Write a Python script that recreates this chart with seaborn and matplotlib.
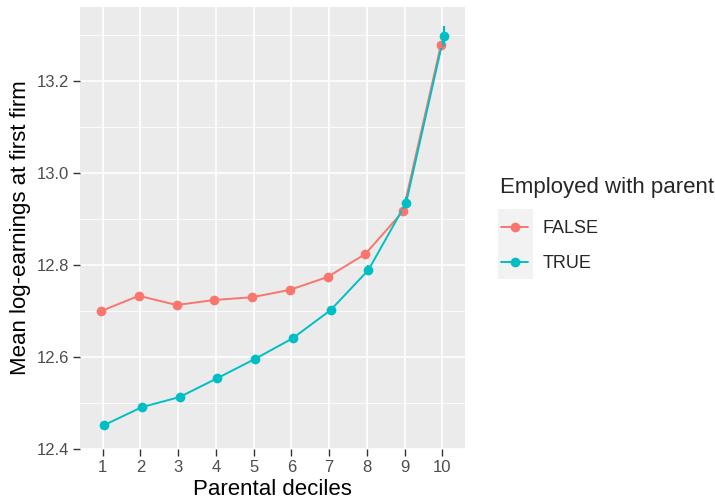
import numpy as np
import pandas as pd
import matplotlib
matplotlib.use("Agg")
import matplotlib.pyplot as plt
import seaborn as sns
from matplotlib.patches import Rectangle

# Datos
deciles = [1, 2, 3, 4, 5, 6, 7, 8, 9, 10]
no_empleado = [12.700, 12.733, 12.713, 12.724, 12.730, 12.746, 12.774, 12.824, 12.917, 13.278]
si_empleado = [12.452, 12.491, 12.513, 12.554, 12.596, 12.641, 12.702, 12.789, 12.935, 13.298]
err_no = [0.004, 0.004, 0.004, 0.004, 0.004, 0.004, 0.004, 0.004, 0.004, 0.006]
err_si = [0.008, 0.008, 0.007, 0.007, 0.007, 0.007, 0.008, 0.010, 0.012, 0.022]
grupos = ["FALSE", "TRUE"]
colores = {"FALSE": "#F8766D", "TRUE": "#00BFC4"}

df = pd.DataFrame({
    "decil": deciles * 2,
    "media": no_empleado + si_empleado,
    "err": err_no + err_si,
    "grupo": ["FALSE"] * 10 + ["TRUE"] * 10,
})
# pequeño desplazamiento horizontal (dodge)
df["x"] = df["decil"] + df["grupo"].map({"FALSE": -0.04, "TRUE": 0.04})

sns.set_theme(style="darkgrid", rc={
    "axes.facecolor": "#EBEBEB",
    "grid.color": "white",
    "axes.edgecolor": "#EBEBEB",
})
plt.rcParams["font.family"] = ["Liberation Sans", "DejaVu Sans"]

fig = plt.figure(figsize=(7.15, 5), dpi=100)
ax = fig.add_axes([80 / 715, 1 - 449 / 500, (465 - 80) / 715, (449 - 7) / 500])

sns.lineplot(data=df, x="x", y="media", hue="grupo", hue_order=grupos,
             palette=colores, marker="o", markersize=7, markeredgewidth=0,
             linewidth=1.4, ax=ax, legend=True)
for g in grupos:
    sub = df[df["grupo"] == g]
    ax.errorbar(sub["x"], sub["media"], yerr=sub["err"], fmt="none",
                ecolor=colores[g], elinewidth=1.6, capsize=0)

ax.set_xlim(0.4, 10.6)
ax.set_ylim(12.4, 13.361)
ax.set_xticks(deciles)
ax.set_yticks([12.4, 12.6, 12.8, 13.0, 13.2])
ax.set_yticklabels(["12.4", "12.6", "12.8", "13.0", "13.2"])
ax.set_yticks([12.5, 12.7, 12.9, 13.1, 13.3], minor=True)
ax.grid(which="major", color="white", linewidth=1.2)
ax.grid(which="minor", color="white", linewidth=0.6)
ax.tick_params(axis="both", which="major", length=5, width=1, color="#333333",
               labelsize=12, labelcolor="#4D4D4D", pad=3, bottom=True, left=True)
ax.tick_params(axis="both", which="minor", length=0)
ax.set_xlabel("Parental deciles", fontsize=16, color="black", labelpad=3)
ax.set_ylabel("Mean log-earnings at first firm", fontsize=16, color="black", labelpad=4)
for s in ax.spines.values():
    s.set_visible(False)

# Leyenda
handles, labels = ax.get_legend_handles_labels()
ax.legend_.remove()
fig.patches.append(Rectangle((498 / 715, 1 - 279 / 500), 35 / 715, 70 / 500,
                             transform=fig.transFigure, facecolor="#F2F2F2",
                             edgecolor="none", zorder=0))
fig.text(500 / 715, 1 - 188 / 500, "Employed with parent", fontsize=16,
         ha="left", va="center")
leg = fig.legend(handles, labels, loc="upper left",
                 bbox_to_anchor=(501 / 715, 1 - 220 / 500),
                 frameon=False, fontsize=13, borderpad=0, borderaxespad=0,
                 handlelength=1.5, handletextpad=0.8, labelspacing=1.0)

fig.savefig("out.png", dpi=100)
